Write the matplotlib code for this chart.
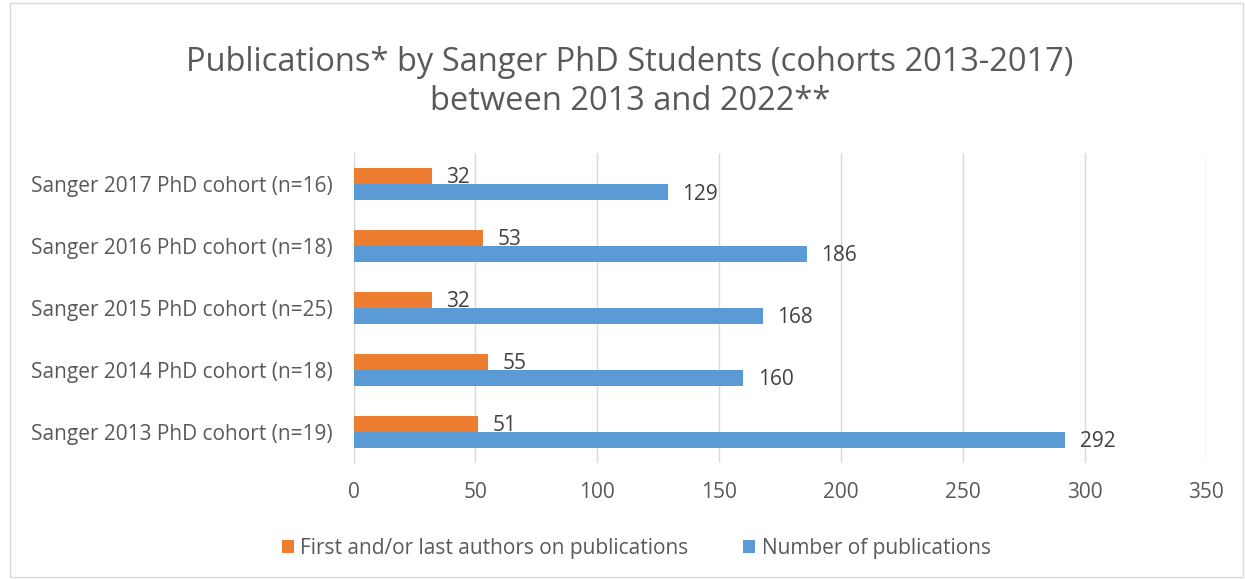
import numpy as np
import matplotlib
matplotlib.use("Agg")
import matplotlib.pyplot as plt
from matplotlib.patches import Rectangle

plt.rcParams['font.family'] = ['Open Sans', 'DejaVu Sans']

# chart data
cohorts = ["Sanger 2013 PhD cohort (n=19)", "Sanger 2014 PhD cohort (n=18)",
           "Sanger 2015 PhD cohort (n=25)", "Sanger 2016 PhD cohort (n=18)",
           "Sanger 2017 PhD cohort (n=16)"]
first_last = [51, 55, 32, 53, 32]
total_pubs = [292, 160, 168, 186, 129]
series_names = ["First and/or last authors on publications", "Number of publications"]
xticks = [0, 50, 100, 150, 200, 250, 300, 350]

ORANGE = "#ED7D31"
BLUE = "#5B9BD5"
TEXT = "#595959"

fig = plt.figure(figsize=(12.45, 5.8), dpi=100)
fig.patches.append(Rectangle((0.008, 0.005), 0.99, 0.99, transform=fig.transFigure,
                             fill=False, edgecolor="#D9D9D9", linewidth=1))
ax = fig.add_axes([0.284, 0.202, 0.685, 0.534])

y = np.arange(len(cohorts))
h = 0.26
b1 = ax.barh(y + h / 2, first_last, height=h, color=ORANGE, label=series_names[0], zorder=3)
b2 = ax.barh(y - h / 2, total_pubs, height=h, color=BLUE, label=series_names[1], zorder=3)

for bars, vals in ((b1, first_last), (b2, total_pubs)):
    for bar, v in zip(bars, vals):
        ax.text(bar.get_width() + 6, bar.get_y() + bar.get_height() / 2 - 0.03, str(v),
                va="center", ha="left", fontsize=15, color="#404040")

ax.set_xlim(0, 350)
ax.set_ylim(-0.5, len(cohorts) - 0.5)
ax.set_xticks(xticks)
ax.set_yticks(y)
ax.set_yticklabels(cohorts)
ax.tick_params(axis="both", length=0, labelsize=15, labelcolor=TEXT)
ax.tick_params(axis="x", pad=14)
ax.tick_params(axis="y", pad=15)
ax.grid(axis="x", color="#D9D9D9", linewidth=1, zorder=0)
for s in ["top", "right", "bottom"]:
    ax.spines[s].set_visible(False)
ax.spines["left"].set_color("#D9D9D9")

fig.text(0.506, 0.858, "Publications* by Sanger PhD Students (cohorts 2013-2017)\nbetween 2013 and 2022**",
         ha="center", va="center", fontsize=23.5, color=TEXT, linespacing=1.25)

fig.legend(loc="center", bbox_to_anchor=(0.511, 0.055), ncol=2, frameon=False,
           fontsize=15, labelcolor=TEXT, handlelength=0.6, handleheight=0.6,
           handletextpad=0.3, columnspacing=2.6)

fig.savefig("out.png", dpi=100)
